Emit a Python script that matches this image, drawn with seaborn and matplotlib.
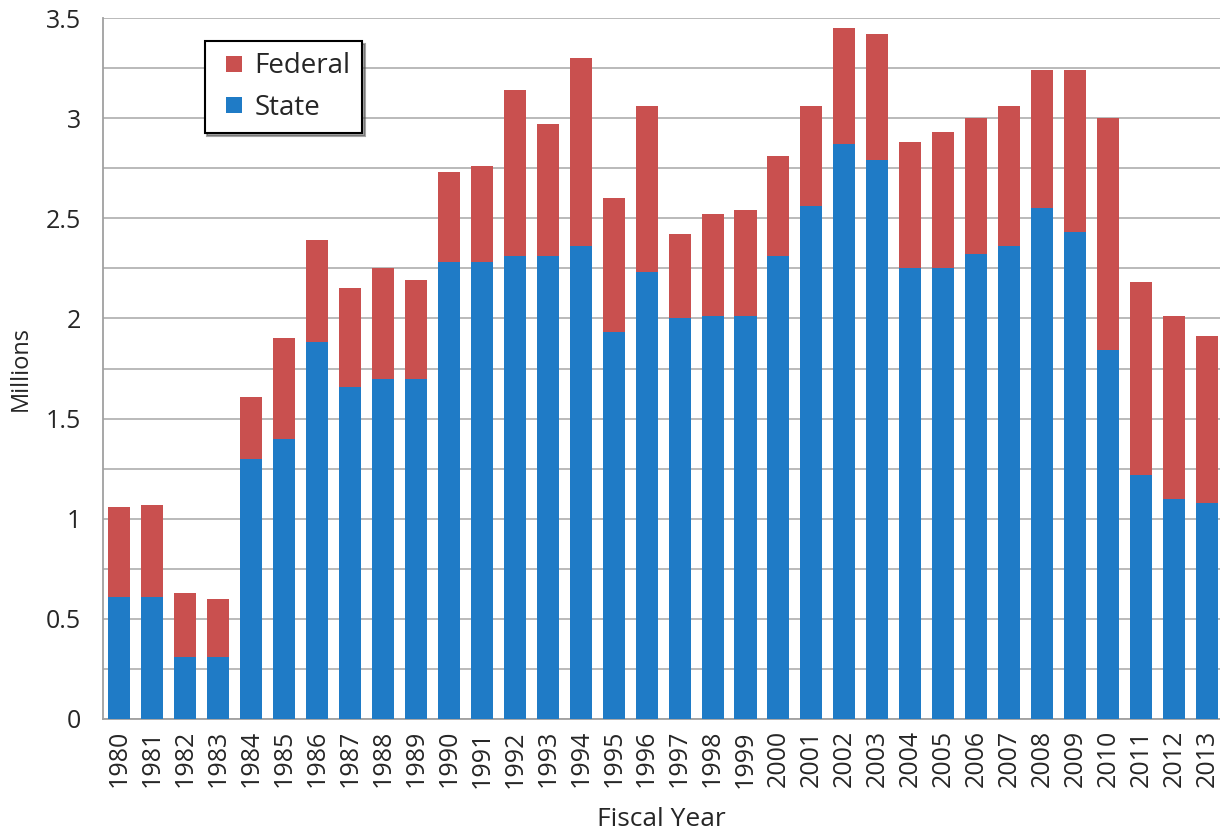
import pandas as pd
import matplotlib.pyplot as plt
from matplotlib.ticker import MultipleLocator
from matplotlib.lines import Line2D
import seaborn as sns

# Fiscal years and values (millions)
years = [str(y) for y in range(1980, 2014)]
state = [0.61, 0.61, 0.31, 0.31, 1.30, 1.40, 1.88, 1.66, 1.70, 1.70,
         2.28, 2.28, 2.31, 2.31, 2.36, 1.93, 2.23, 2.00, 2.01, 2.01,
         2.31, 2.56, 2.87, 2.79, 2.25, 2.25, 2.32, 2.36, 2.55, 2.43,
         1.84, 1.22, 1.10, 1.08]
federal = [0.45, 0.46, 0.32, 0.29, 0.31, 0.50, 0.51, 0.49, 0.55, 0.49,
           0.45, 0.48, 0.83, 0.66, 0.94, 0.67, 0.83, 0.42, 0.51, 0.53,
           0.50, 0.50, 0.58, 0.63, 0.63, 0.68, 0.68, 0.70, 0.69, 0.81,
           1.16, 0.96, 0.91, 0.83]

RED = "#C9504F"
BLUE = "#1F7BC6"

df = pd.DataFrame({"year": years, "state": state, "federal": federal})
df["total"] = df["state"] + df["federal"]

sns.set_theme(style="white")
plt.rcParams['font.family'] = ['Open Sans', 'DejaVu Sans']

fig = plt.figure(figsize=(12.2, 8.31), dpi=100)
ax = fig.add_axes([0.0844, 0.1348, 0.9156, 0.8435])

# stacked bars: total (federal colour) underneath, state drawn over it
sns.barplot(data=df, x="year", y="total", color=RED, width=0.67,
            saturation=1, linewidth=0, ax=ax, zorder=3)
sns.barplot(data=df, x="year", y="state", color=BLUE, width=0.67,
            saturation=1, linewidth=0, ax=ax, zorder=3)

ax.set_ylim(0, 3.5)
ax.set_xlim(-0.5, 33.4)
ax.yaxis.set_major_locator(MultipleLocator(0.5))
ax.yaxis.set_minor_locator(MultipleLocator(0.25))
ax.set_yticklabels([f"{v:g}" for v in ax.get_yticks()])
ax.grid(axis="y", which="both", color="#b4b4b4", linewidth=1.3, zorder=0)
ax.set_axisbelow(True)
ax.tick_params(axis="y", which="both", length=0, labelsize=18, pad=16)
ax.tick_params(axis="x", length=0, labelsize=18, rotation=90, pad=8)
for s in ["top", "right"]:
    ax.spines[s].set_visible(False)
for s in ["left", "bottom"]:
    ax.spines[s].set_color("#a0a0a0")
    ax.spines[s].set_linewidth(1.3)

ax.set_xlabel("Fiscal Year", fontsize=19, labelpad=14)
ax.set_ylabel("Millions", fontsize=17)
ax.yaxis.set_label_coords(-0.063, 0.5)

handles = [Line2D([], [], marker="s", linestyle="none", markersize=11,
                  markerfacecolor=c, markeredgewidth=0) for c in (RED, BLUE)]
leg = ax.legend(handles, ["Federal", "State"], loc="upper left",
                bbox_to_anchor=(0.091, 0.967), fontsize=20,
                frameon=True, fancybox=False, shadow=True, edgecolor="black",
                handlelength=1.3, handletextpad=0.1,
                borderpad=0.4, labelspacing=0.5, borderaxespad=0)
leg.get_frame().set_linewidth(1.5)

fig.savefig("out.png", dpi=100)
